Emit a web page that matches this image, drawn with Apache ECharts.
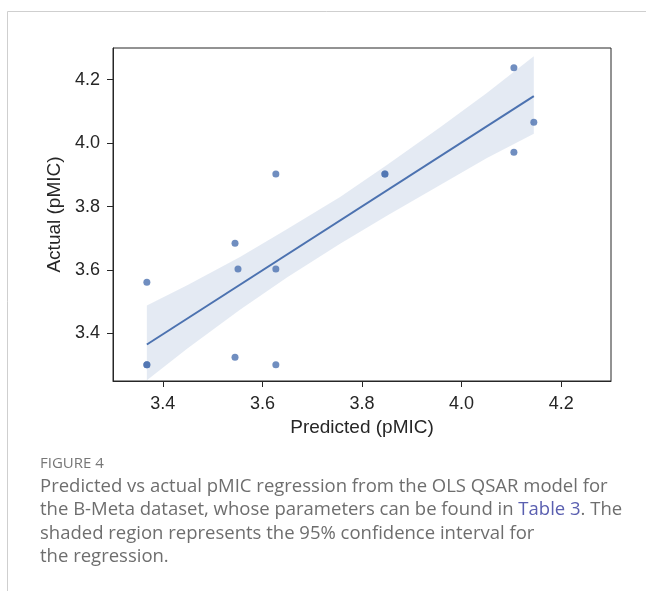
<!DOCTYPE html>
<html>
  <head>
    <meta charset="UTF-8" />
    <title>Predicted vs actual pMIC</title>
    <script src="https://cdn.jsdelivr.net/npm/echarts@6.0.0/dist/echarts.min.js"></script>
    <style>
      html, body { margin: 0; padding: 0; background: #fff; }
    </style>
  </head>
  <body>
    <div id="regChart" style="width: 646px; height: 591px"></div>
  </body>
  <script>
    // observed points (duplicates drawn twice, like the darker dots)
    const predicted = [3.368, 3.368, 3.368, 3.545, 3.551, 3.545, 3.627, 3.627, 3.627, 3.846, 3.846, 4.105, 4.105, 4.145];
    const actual = [3.301, 3.301, 3.561, 3.684, 3.603, 3.325, 3.903, 3.603, 3.301, 3.903, 3.903, 4.238, 3.971, 4.066];

    // fitted regression line
    const fitX = [3.368, 4.145];
    const fitY = [3.365, 4.148];

    // 95% confidence band
    const bandX = [3.368, 3.45, 3.555, 3.65, 3.756, 3.85, 3.957, 4.05, 4.145];
    const bandLow = [3.252, 3.353, 3.475, 3.577, 3.683, 3.771, 3.868, 3.952, 4.030];
    const bandHigh = [3.488, 3.553, 3.641, 3.729, 3.830, 3.931, 4.050, 4.157, 4.274];

    const xTicks = [3.4, 3.6, 3.8, 4.0, 4.2];
    const yTicks = [3.4, 3.6, 3.8, 4.0, 4.2];

    const ink = '#262626';
    const blue = '#4c72b0';

    let myChart = echarts.init(document.getElementById('regChart'));

    let bandData = bandX.map((x, i) => [x, bandLow[i], bandHigh[i]]);

    myChart.setOption({
      animation: false,
      textStyle: { fontFamily: 'Liberation Sans, Arial, sans-serif' },
      grid: {
        left: 113, top: 48, right: 35, bottom: 210,
        show: true, borderColor: ink, borderWidth: 1, backgroundColor: '#fff'
      },
      xAxis: {
        type: 'value', min: 3.3, max: 4.3,
        name: 'Predicted (pMIC)', nameLocation: 'middle', nameGap: 35,
        nameTextStyle: { fontSize: 19, color: ink },
        splitLine: { show: false },
        axisLine: { show: true, lineStyle: { color: ink } },
        axisTick: { show: true, length: 6, customValues: xTicks, lineStyle: { color: ink } },
        axisLabel: { fontSize: 18, color: ink, margin: 14, customValues: xTicks, formatter: v => v.toFixed(1) }
      },
      yAxis: {
        type: 'value', min: 3.25, max: 4.3,
        name: 'Actual (pMIC)', nameLocation: 'middle', nameGap: 45,
        nameTextStyle: { fontSize: 19, color: ink },
        splitLine: { show: false },
        axisLine: { show: true, lineStyle: { color: ink } },
        axisTick: { show: true, length: 6, customValues: yTicks, lineStyle: { color: ink } },
        axisLabel: { fontSize: 18, color: ink, margin: 13, customValues: yTicks, formatter: v => v.toFixed(1) }
      },
      series: [
        {
          type: 'custom',
          data: bandData,
          encode: { x: 0, y: [1, 2] },
          z: 1,
          renderItem: (params, api) => {
            if (params.dataIndex !== 0) return;
            let top = bandData.map(d => api.coord([d[0], d[2]]));
            let bottom = bandData.map(d => api.coord([d[0], d[1]])).reverse();
            return {
              type: 'polygon',
              shape: { points: top.concat(bottom) },
              style: { fill: 'rgba(76,114,176,0.15)' }
            };
          }
        },
        {
          type: 'line',
          data: fitX.map((x, i) => [x, fitY[i]]),
          symbol: 'none',
          z: 2,
          lineStyle: { color: blue, width: 2 }
        },
        {
          type: 'scatter',
          data: predicted.map((x, i) => [x, actual[i]]),
          symbolSize: 7,
          z: 3,
          itemStyle: { color: blue, opacity: 0.8 }
        }
      ],
      graphic: [
        { type: 'line', shape: { x1: 7.5, y1: 11.5, x2: 646, y2: 11.5 }, style: { stroke: '#cfcfcf', lineWidth: 1 } },
        { type: 'line', shape: { x1: 7.5, y1: 11.5, x2: 7.5, y2: 591 }, style: { stroke: '#cfcfcf', lineWidth: 1 } },
        {
          type: 'text', left: 40, top: 456,
          style: { text: 'FIGURE 4', fontSize: 15, fontFamily: 'Open Sans', fill: '#777' }
        },
        {
          type: 'text', left: 40, top: 475,
          style: {
            text: 'Predicted vs actual pMIC regression from the OLS QSAR model for\n' +
                  'the B-Meta dataset, whose parameters can be found in {link|Table 3}. The\n' +
                  'shaded region represents the 95% confidence interval for\n' +
                  'the regression.',
            fontSize: 18.5, lineHeight: 23.3, fontFamily: 'Open Sans', fill: '#6e6e6e',
            rich: { link: { fontSize: 18.5, fontFamily: 'Open Sans', fill: '#5a5fb0' } }
          }
        }
      ]
    });
  </script>
</html>
